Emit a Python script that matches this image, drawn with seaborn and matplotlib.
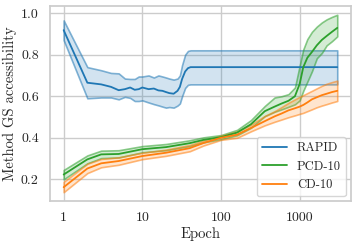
import pandas as pd
import matplotlib.pyplot as plt
import seaborn as sns
from matplotlib.colors import to_rgb

# ===== DATA =====
rapid_epochs = [1, 2, 3, 4, 5, 6, 7, 8, 9, 10, 12, 14, 16, 18, 20, 22, 25, 28,
                30, 32, 35, 38, 41, 50, 3000]
rapid_mid = [0.918, 0.665, 0.657, 0.645, 0.629, 0.634, 0.642, 0.631, 0.634, 0.642,
             0.634, 0.637, 0.628, 0.626, 0.620, 0.615, 0.612, 0.626, 0.645, 0.683,
             0.719, 0.735, 0.740, 0.740, 0.740]
rapid_hi = [0.965, 0.740, 0.725, 0.712, 0.710, 0.685, 0.683, 0.683, 0.695, 0.695,
            0.700, 0.690, 0.700, 0.695, 0.690, 0.685, 0.680, 0.685, 0.700, 0.750,
            0.800, 0.818, 0.821, 0.821, 0.821]
rapid_lo = [0.870, 0.590, 0.594, 0.594, 0.585, 0.597, 0.592, 0.577, 0.577, 0.580,
            0.570, 0.562, 0.556, 0.550, 0.545, 0.548, 0.545, 0.555, 0.565, 0.600,
            0.640, 0.655, 0.657, 0.657, 0.657]

cd_epochs = [1, 2, 3, 5, 10, 20, 40, 60, 100, 160, 240, 360, 480, 590, 720, 870,
             1000, 1110, 1250, 1430, 1650, 1910, 2200, 2570, 3000]
pcd_mid = [0.223, 0.296, 0.320, 0.322, 0.345, 0.355, 0.374, 0.390, 0.403, 0.425,
           0.465, 0.528, 0.550, 0.565, 0.578, 0.600, 0.660, 0.740, 0.785, 0.813,
           0.845, 0.871, 0.890, 0.910, 0.929]
pcd_hi = [0.245, 0.315, 0.338, 0.340, 0.360, 0.370, 0.388, 0.402, 0.413, 0.438,
          0.485, 0.553, 0.594, 0.600, 0.610, 0.642, 0.748, 0.825, 0.875, 0.910,
          0.935, 0.955, 0.970, 0.982, 0.992]
pcd_lo = [0.200, 0.277, 0.302, 0.305, 0.330, 0.340, 0.360, 0.378, 0.393, 0.412,
          0.448, 0.504, 0.525, 0.537, 0.549, 0.561, 0.580, 0.626, 0.670, 0.720,
          0.783, 0.808, 0.845, 0.865, 0.888]
cd_mid = [0.162, 0.252, 0.277, 0.288, 0.312, 0.328, 0.350, 0.375, 0.400, 0.415,
          0.447, 0.480, 0.503, 0.517, 0.532, 0.542, 0.550, 0.558, 0.570, 0.585,
          0.595, 0.605, 0.612, 0.620, 0.626]
cd_hi = [0.188, 0.275, 0.298, 0.306, 0.328, 0.343, 0.365, 0.387, 0.410, 0.430,
         0.463, 0.505, 0.528, 0.548, 0.568, 0.585, 0.597, 0.605, 0.615, 0.626,
         0.638, 0.650, 0.660, 0.668, 0.675]
cd_lo = [0.138, 0.230, 0.258, 0.270, 0.297, 0.313, 0.335, 0.363, 0.390, 0.400,
         0.431, 0.460, 0.477, 0.488, 0.499, 0.508, 0.515, 0.520, 0.528, 0.537,
         0.547, 0.555, 0.562, 0.570, 0.577]

methods = ["RAPID", "PCD-10", "CD-10"]
colors = ["#1f77b4", "#2ca02c", "#ff7f0e"]
x_ticks = [1, 10, 100, 1000]
x_tick_labels = ["1", "10", "100", "1000"]
y_ticks = [0.2, 0.4, 0.6, 0.8, 1.0]

# ===== LONG-FORM TABLE: lo / mid / hi as three "runs" =====
series = {
    "RAPID": (rapid_epochs, rapid_lo, rapid_mid, rapid_hi),
    "PCD-10": (cd_epochs, pcd_lo, pcd_mid, pcd_hi),
    "CD-10": (cd_epochs, cd_lo, cd_mid, cd_hi),
}
rows = []
for method, (ep, lo, mid, hi) in series.items():
    for run, vals in zip(["lo", "mid", "hi"], [lo, mid, hi]):
        for e, v in zip(ep, vals):
            rows.append([method, run, e, v])
df = pd.DataFrame(rows, columns=["method", "run", "epoch", "acc"])

# ===== STYLE =====
sns.set_theme(style="whitegrid")
plt.rcParams["font.family"] = ["cmr10", "DejaVu Serif"]
plt.rcParams["mathtext.fontset"] = "cm"
plt.rcParams["axes.formatter.use_mathtext"] = True

fig, ax = plt.subplots(figsize=(3.57, 2.47), dpi=100)
fig.subplots_adjust(left=0.14, right=0.983, top=0.976, bottom=0.186)

# median = middle run, 100% interval = band from lo to hi
for method, color in zip(methods, colors):
    sns.lineplot(
        data=df[df["method"] == method],
        x="epoch",
        y="acc",
        estimator="median",
        errorbar=("pi", 100),
        color=color,
        linewidth=1.3,
        label=method,
        err_kws={"linewidth": 1.2},
        ax=ax,
    )

# band fill light, band edges darker
for coll, color in zip(ax.collections, colors):
    coll.set_alpha(None)
    coll.set_facecolor((*to_rgb(color), 0.2))
    coll.set_edgecolor((*to_rgb(color), 0.55))

ax.set_xscale("log")
ax.set_xticks(x_ticks, labels=x_tick_labels)
ax.minorticks_off()
ax.set_yticks(y_ticks, labels=[f"{t:.1f}" for t in y_ticks])
ax.tick_params(labelsize=10, pad=2)
ax.set_xlabel("Epoch", fontsize=10.5, labelpad=2)
ax.set_ylabel("Method GS accessibility", fontsize=10.5, labelpad=3)

ax.legend(loc="lower right", fontsize=9, frameon=True,
          handlelength=2.0, borderaxespad=0.4)

plt.savefig("out.png", dpi=100)
